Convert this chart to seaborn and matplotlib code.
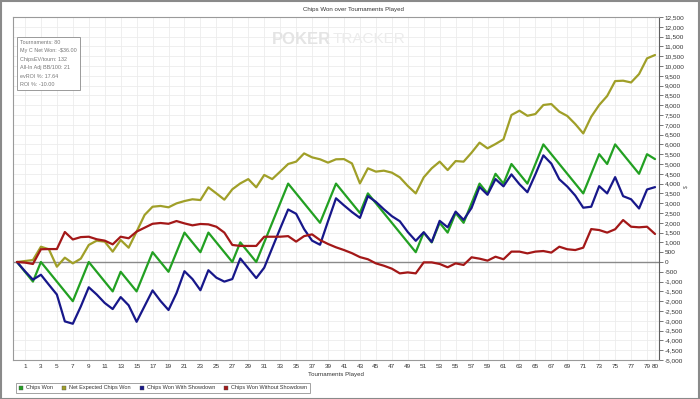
import numpy as np
import pandas as pd
import matplotlib
matplotlib.use("Agg")
import matplotlib.pyplot as plt
from matplotlib.lines import Line2D
from matplotlib.patches import Rectangle
import seaborn as sns

sns.set_style("white")
plt.rcParams['font.family'] = ['Liberation Sans', 'DejaVu Sans']

tournaments = list(range(0, 81))

chips_won = [0, -500, -1000, 0, -500, -1000, -1500, -2000, -1000, 0,
             -500, -1000, -1500, -500, -1000, -1500, -500, 500, 0, -500,
             500, 1500, 1000, 500, 1500, 1000, 500, 0, 1000, 500,
             0, 1000, 2000, 3000, 4000, 3500, 3000, 2500, 2000, 3000,
             4000, 3500, 3000, 2500, 3500, 3000, 2500, 2000, 1500, 1000,
             500, 1500, 1000, 2000, 1500, 2500, 2000, 3000, 4000, 3500,
             4500, 4000, 5000, 4500, 4000, 5000, 6000, 5500, 5000, 4500,
             4000, 3500, 4500, 5500, 5000, 6000, 5500, 5000, 4500, 5500,
             5250]

net_expected = [0, 50, 100, 780, 650, -240, 220, -70, 170, 870,
                1090, 1040, 530, 1120, 730, 1550, 2400, 2820, 2860, 2790,
                2990, 3110, 3200, 3160, 3810, 3500, 3180, 3710, 4010, 4230,
                3810, 4440, 4230, 4610, 5000, 5120, 5540, 5340, 5240, 5070,
                5240, 5250, 5030, 4010, 4780, 4610, 4660, 4560, 4320, 3880,
                3500, 4320, 4780, 5120, 4690, 5150, 5120, 5580, 6090, 5800,
                6020, 6260, 7500, 7720, 7460, 7550, 8010, 8060, 7670, 7450,
                7040, 6560, 7410, 8010, 8470, 9230, 9250, 9160, 9590, 10390,
                10560]

with_showdown = [0, -470, -900, -650, -1160, -1660, -3030, -3150, -2270, -1290,
                 -1660, -2090, -2400, -1790, -2210, -3050, -2250, -1450, -1990, -2450,
                 -1590, -470, -870, -1440, -420, -800, -1000, -870, 180, -320,
                 -820, -290, 710, 1710, 2680, 2460, 1680, 1090, 880, 2080,
                 3250, 2890, 2550, 2250, 3360, 3070, 2690, 2340, 2080, 1530,
                 1080, 1520, 1020, 2100, 1770, 2570, 2150, 2760, 3830, 3430,
                 4230, 3860, 4470, 3970, 3560, 4470, 5440, 5020, 4220, 3850,
                 3390, 2770, 2820, 3870, 3500, 4330, 3360, 3200, 2730, 3700,
                 3820]

without_showdown = [0, -30, -100, 650, 660, 660, 1530, 1150, 1270, 1290,
                    1160, 1090, 900, 1290, 1210, 1550, 1750, 1950, 1990, 1950,
                    2090, 1970, 1870, 1940, 1920, 1800, 1500, 870, 820, 820,
                    820, 1290, 1290, 1290, 1320, 1040, 1320, 1410, 1120, 920,
                    750, 610, 450, 250, 140, -70, -190, -340, -580, -530,
                    -580, -20, -20, -100, -270, -70, -150, 240, 170, 70,
                    270, 140, 530, 530, 440, 530, 560, 480, 780, 650,
                    610, 730, 1680, 1630, 1500, 1670, 2140, 1800, 1770, 1800,
                    1430]

series_names = ["Chips Won", "Net Expected Chips Won",
                "Chips Won With Showdown", "Chips Won Without Showdown"]
series_colors = ["#22a022", "#a09f28", "#17178a", "#a31818"]

info_lines = ["Tournaments: 80", "My C Net Won: -$36.00", "ChipsEV/tourn: 132",
              "All-In Adj BB/100: 21", "evROI %: 17.64", "ROI %: -10.00"]

x_ticks = list(range(1, 80, 2)) + [80]
y_ticks = list(range(-5000, 12501, 500))

frames = []
for name, vals in zip(series_names, [chips_won, net_expected, with_showdown, without_showdown]):
    frames.append(pd.DataFrame({"Tournaments Played": tournaments, "value": vals, "series": name}))
df = pd.concat(frames, ignore_index=True)

W, H = 700, 399
fig = plt.figure(figsize=(W / 100, H / 100), dpi=100)
fig.patch.set_facecolor("white")

L, R, T, B = 13, 659, 17, 360
ax = fig.add_axes([L / W, 1 - B / H, (R - L) / W, (B - T) / H])

# watermark
fig.text(272 / W, 1 - 39 / H, "POKER", fontsize=12, fontweight="bold", color="#e4e4e4",
         va="center", ha="left", zorder=0)
fig.text(333 / W, 1 - 39 / H, "TRACKER", fontsize=11, color="#ececec",
         va="center", ha="left", zorder=0)
ax.set_facecolor("none")

ax.axhline(0, color="#8a8a8a", lw=1.0, zorder=1)
sns.lineplot(data=df, x="Tournaments Played", y="value", hue="series",
             hue_order=series_names, palette=series_colors, linewidth=1.6,
             legend=False, ax=ax, zorder=3)

ax.set_xlim(-0.5, 80.5)
ax.set_ylim(-5000, 12500)
ax.set_xticks(x_ticks)
ax.set_xticklabels([str(v) for v in x_ticks])
ax.set_yticks(y_ticks)
ax.set_yticklabels([f"{v:,}" for v in y_ticks])
ax.yaxis.tick_right()
ax.tick_params(axis="y", which="both", right=True, left=False, length=3, width=0.6,
               color="#606060", labelsize=4.6, labelcolor="#333333", pad=1)
ax.tick_params(axis="x", length=0, labelsize=4.6, labelcolor="#333333", pad=3)
ax.grid(True, color="#ececec", lw=0.6, zorder=0)
ax.set_axisbelow(True)
ax.set_xlabel("Tournaments Played", fontsize=4.4, color="#333333", labelpad=2)
ax.set_ylabel("")
for s in ["left", "top", "bottom"]:
    ax.spines[s].set_color("#9a9a9a")
    ax.spines[s].set_linewidth(0.8)
ax.spines["right"].set_color("#606060")
ax.spines["right"].set_linewidth(0.8)

# title
fig.text(0.5 * (L + R) / W + 17 / W, 1 - 9 / H, "Chips Won over Tournaments Played",
         fontsize=4.4, color="#333333", ha="center", va="center")

# small axis symbol on the right
fig.text(686 / W, 1 - 187 / H, "$", fontsize=3.6, color="#555555", rotation=90,
         ha="center", va="center")

# info box
fig.text(20 / W, 1 - 40 / H, "\n".join(info_lines), fontsize=3.9, color="#777777",
         ha="left", va="top", linespacing=1.85,
         bbox=dict(boxstyle="square,pad=0.6", facecolor="white", edgecolor="#9a9a9a", lw=0.7))

# legend
handles = [Line2D([0], [0], marker="s", linestyle="none", markersize=3.0,
                  markerfacecolor=c, markeredgecolor="#555555", markeredgewidth=0.3)
           for c in series_colors]
leg = fig.legend(handles, series_names, loc="lower left",
                 bbox_to_anchor=(13 / W, 3 / H), ncol=4, fontsize=4.0,
                 handlelength=0.8, handletextpad=0.5, columnspacing=1.6,
                 borderpad=0.5, frameon=True, fancybox=False)
leg.get_frame().set_edgecolor("#8a8a8a")
leg.get_frame().set_linewidth(0.7)
for t in leg.get_texts():
    t.set_color("#333333")

# outer frame
fig.patches.append(Rectangle((0.001, 0.001), 0.998, 0.997, transform=fig.transFigure,
                             fill=False, edgecolor="#8a8a8a", lw=1.5))

fig.savefig("out.png", dpi=100, facecolor="white")
